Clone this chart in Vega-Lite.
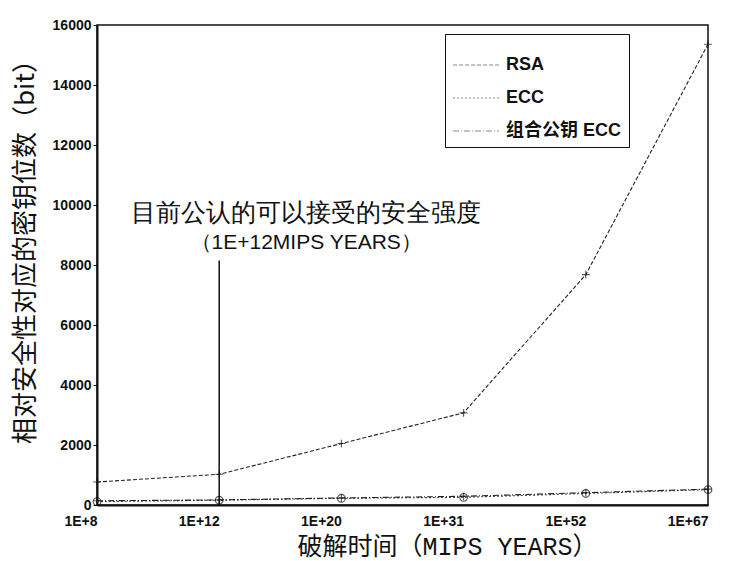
{
  "$schema": "https://vega.github.io/schema/vega-lite/v6.json",
  "autosize": "none",
  "width": 611,
  "height": 480,
  "padding": {"left": 97, "top": 25, "right": 27, "bottom": 56},
  "background": "white",
  "config": {
    "view": {"stroke": "#111", "strokeWidth": 1.5},
    "font": "Liberation Sans"
  },
  "datasets": {
    "series": [
      {"t": "1E+8", "series": "RSA", "bits": 768},
      {"t": "1E+12", "series": "RSA", "bits": 1024},
      {"t": "1E+20", "series": "RSA", "bits": 2048},
      {"t": "1E+31", "series": "RSA", "bits": 3072},
      {"t": "1E+52", "series": "RSA", "bits": 7680},
      {"t": "1E+67", "series": "RSA", "bits": 15360},
      {"t": "1E+8", "series": "ECC", "bits": 112},
      {"t": "1E+12", "series": "ECC", "bits": 160},
      {"t": "1E+20", "series": "ECC", "bits": 224},
      {"t": "1E+31", "series": "ECC", "bits": 256},
      {"t": "1E+52", "series": "ECC", "bits": 384},
      {"t": "1E+67", "series": "ECC", "bits": 512},
      {"t": "1E+8", "series": "组合公钥 ECC", "bits": 140},
      {"t": "1E+12", "series": "组合公钥 ECC", "bits": 170},
      {"t": "1E+20", "series": "组合公钥 ECC", "bits": 235},
      {"t": "1E+31", "series": "组合公钥 ECC", "bits": 290},
      {"t": "1E+52", "series": "组合公钥 ECC", "bits": 410},
      {"t": "1E+67", "series": "组合公钥 ECC", "bits": 530}
    ],
    "marker": [{"t": "1E+12", "y0": 0, "y1": 8150}],
    "note": [
      {"t": "1E+12", "y": 9750, "label": "目前公认的可以接受的安全强度", "kind": "a"},
      {"t": "1E+12", "y": 8750, "label": "（1E+12MIPS YEARS）", "kind": "b"}
    ]
  },
  "layer": [
    {
      "data": {"name": "marker"},
      "mark": {"type": "rule", "color": "#111", "strokeWidth": 1.5},
      "encoding": {
        "x": {"field": "t", "type": "ordinal", "sort": ["1E+8", "1E+12", "1E+20", "1E+31", "1E+52", "1E+67"]},
        "y": {"field": "y0", "type": "quantitative"},
        "y2": {"field": "y1"}
      }
    },
    {
      "data": {"name": "series"},
      "mark": {"type": "line", "strokeWidth": 1.1},
      "encoding": {
        "x": {
          "field": "t", "type": "ordinal",
          "sort": ["1E+8", "1E+12", "1E+20", "1E+31", "1E+52", "1E+67"],
          "scale": {"type": "point", "padding": 0, "domain": ["1E+8", "1E+12", "1E+20", "1E+31", "1E+52", "1E+67"]},
          "axis": {
            "title": "破解时间（MIPS YEARS）",
            "titleFont": "Liberation Mono, Noto Sans CJK SC", "titleFontSize": 25, "titleFontWeight": "normal",
            "titleColor": "#111", "titleX": 350, "titleY": 41, "titleAlign": "center", "titleBaseline": "middle",
            "labelAngle": 0, "labelFontSize": 14, "labelFontWeight": "bold", "labelColor": "#111",
            "domainColor": "#111", "domainWidth": 2, "ticks": false,
            "labelPadding": 16
          }
        },
        "y": {
          "field": "bits", "type": "quantitative",
          "scale": {"domain": [0, 16000], "nice": false},
          "axis": {
            "title": "相对安全性对应的密钥位数（bit）",
            "titleFont": "Noto Sans CJK SC", "titleFontSize": 26, "titleFontWeight": "normal",
            "titleColor": "#111", "titleX": -72, "titleY": 220, "titleAlign": "center", "titleBaseline": "middle",
            "values": [0, 2000, 4000, 6000, 8000, 10000, 12000, 14000, 16000],
            "format": "d", "grid": false,
            "labelFontSize": 14, "labelFontWeight": "bold", "labelColor": "#111",
            "domainColor": "#111", "domainWidth": 2, "tickColor": "#111", "tickSize": 4
          }
        },
        "color": {
          "field": "series", "type": "nominal",
          "sort": ["RSA", "ECC", "组合公钥 ECC"],
          "scale": {"range": ["#222", "#444", "#222"]},
          "legend": {
            "title": null, "orient": "none", "legendX": 348, "legendY": 9,
            "strokeColor": "#111", "fillColor": "white", "padding": 7,
            "labelFont": "Liberation Sans, Noto Sans CJK SC", "labelFontSize": 18, "labelFontWeight": "bold", "labelColor": "#111",
            "symbolType": "stroke", "symbolSize": 2100, "symbolStrokeWidth": 1.2,
            "rowPadding": -22, "labelOffset": 6
          }
        },
        "strokeDash": {
          "field": "series", "type": "nominal",
          "sort": ["RSA", "ECC", "组合公钥 ECC"],
          "scale": {"range": [[4, 2], [2, 2], [6, 2, 1, 2]]},
          "legend": {
            "title": null, "orient": "none", "legendX": 348, "legendY": 9,
            "strokeColor": "#111", "fillColor": "white", "padding": 7,
            "labelFont": "Liberation Sans, Noto Sans CJK SC", "labelFontSize": 18, "labelFontWeight": "bold", "labelColor": "#111",
            "symbolType": "stroke", "symbolSize": 2100, "symbolStrokeWidth": 1.2,
            "rowPadding": -22, "labelOffset": 6
          }
        }
      }
    },
    {
      "data": {"name": "series"},
      "mark": {"type": "point", "filled": false, "size": 60, "strokeWidth": 1.1, "color": "#111"},
      "encoding": {
        "x": {"field": "t", "type": "ordinal", "sort": ["1E+8", "1E+12", "1E+20", "1E+31", "1E+52", "1E+67"]},
        "y": {"field": "bits", "type": "quantitative"},
        "shape": {
          "field": "series", "type": "nominal",
          "sort": ["RSA", "ECC", "组合公钥 ECC"],
          "scale": {"range": ["M-1,0H1M0,-1V1", "circle", "M-1,0H1M0,-1V1"]},
          "legend": null
        }
      }
    },
    {
      "data": {"name": "note"},
      "mark": {"type": "text", "align": "center", "baseline": "middle", "color": "#111", "dx": 87},
      "encoding": {
        "x": {"field": "t", "type": "ordinal", "sort": ["1E+8", "1E+12", "1E+20", "1E+31", "1E+52", "1E+67"]},
        "y": {"field": "y", "type": "quantitative"},
        "text": {"field": "label"},
        "font": {"field": "kind", "type": "nominal", "scale": {"domain": ["a", "b"], "range": ["Noto Sans CJK SC", "Liberation Mono, Noto Sans CJK SC"]}, "legend": null},
        "size": {"field": "kind", "type": "nominal", "scale": {"domain": ["a", "b"], "range": [25, 21]}, "legend": null}
      }
    }
  ]
}
